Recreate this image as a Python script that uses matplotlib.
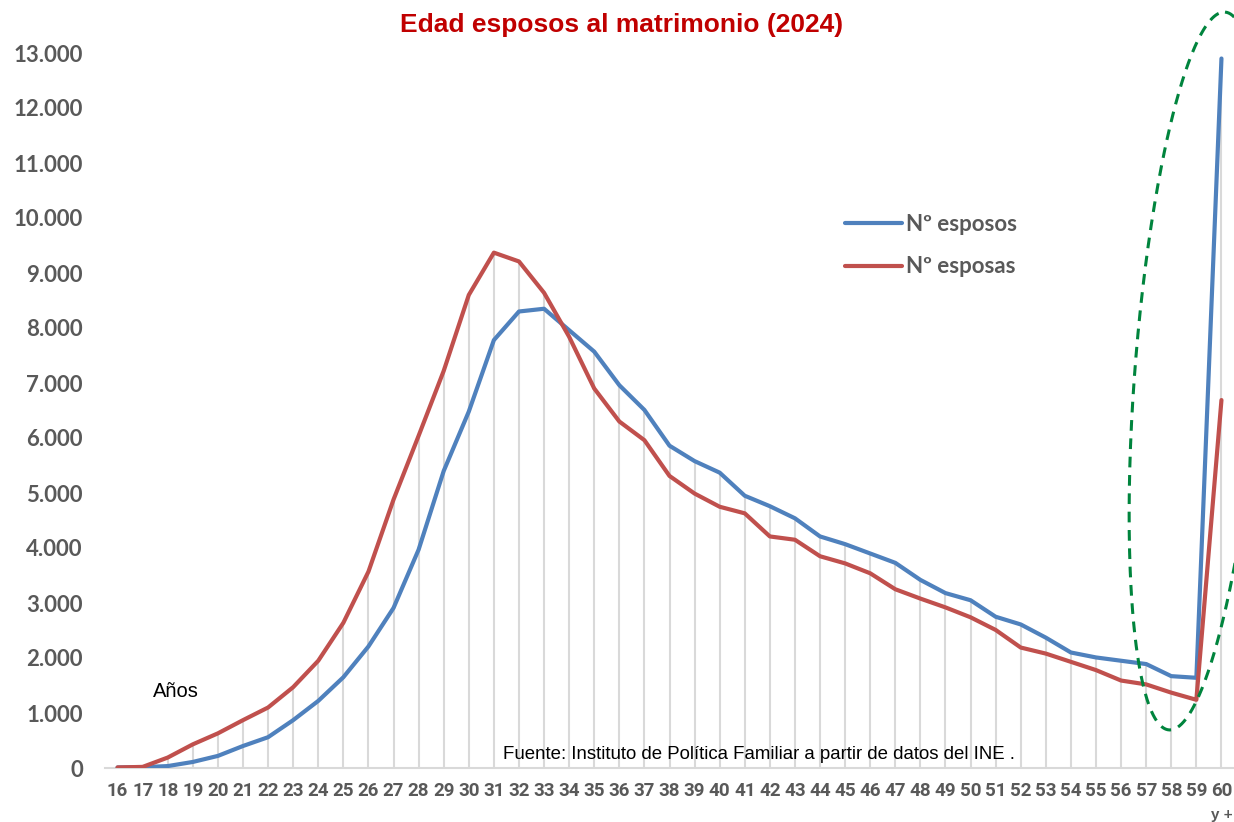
import numpy as np
import matplotlib
matplotlib.use("Agg")
import matplotlib.pyplot as plt

ages = list(range(16, 61))
age_labels = [str(a) for a in ages]

esposos = [10, 15, 35, 110, 220, 400, 560, 870, 1220, 1650, 2210, 2910, 3970, 5400,
           6480, 7780, 8300, 8350, 7960, 7570, 6960, 6510, 5860, 5580, 5370, 4950,
           4760, 4540, 4210, 4070, 3900, 3730, 3420, 3180, 3050, 2750, 2610, 2370,
           2100, 2010, 1950, 1890, 1670, 1640, 12900]
esposas = [10, 20, 190, 430, 630, 870, 1100, 1470, 1950, 2640, 3570, 4880, 6040, 7220,
           8600, 9370, 9210, 8640, 7840, 6900, 6300, 5960, 5310, 4990, 4750, 4630,
           4210, 4150, 3850, 3720, 3540, 3250, 3080, 2920, 2740, 2510, 2190, 2080,
           1930, 1780, 1590, 1520, 1370, 1240, 6690]

W, H = 1234, 822
fig = plt.figure(figsize=(W / 100, H / 100), dpi=100)
fig.patch.set_facecolor("white")

ax = fig.add_axes([105 / W, 1 - 768 / H, (1234 - 105) / W, (768 - 53) / H])
x = np.arange(len(ages))

blue = "#4F81BD"
red = "#C0504D"
gray = "#595959"

tops = np.maximum(esposos, esposas)
ax.vlines(x, 0, tops, color="#d9d9d9", lw=1.5, zorder=1)
ax.plot(x, esposos, color=blue, lw=3, solid_joinstyle="round", solid_capstyle="round",
        label="Nº esposos", zorder=3)
ax.plot(x, esposas, color=red, lw=3, solid_joinstyle="round", solid_capstyle="round",
        label="Nº esposas", zorder=3)

ax.set_xlim(-0.5, len(ages) - 0.5)
ax.set_ylim(0, 13000)
for s in ["top", "right", "left"]:
    ax.spines[s].set_visible(False)
ax.spines["bottom"].set_color("#d9d9d9")
ax.spines["bottom"].set_linewidth(1.5)

ax.set_yticks(np.arange(0, 13001, 1000))
ax.set_yticklabels([f"{v:,}".replace(",", ".") for v in range(0, 13001, 1000)],
                   fontfamily="Lato", fontweight="bold", fontsize=16, color=gray)
ax.set_xticks(x)
ax.set_xticklabels(age_labels, fontfamily="Roboto", fontstretch="condensed",
                   fontweight="bold", fontsize=13.5, color=gray)
ax.tick_params(axis="y", length=0, pad=16)
ax.tick_params(axis="x", length=0, pad=10)

ax.text(x[-1], -855, "y +", ha="center", va="center", fontsize=11, fontweight="bold",
        color=gray, fontfamily="Liberation Sans")

fig.text(622 / W, 1 - 25 / H, "Edad esposos al matrimonio (2024)", ha="center", va="center",
         fontsize=19, fontweight="bold", color="#C00000", fontfamily="Liberation Sans")

fig.text(153 / W, 1 - 691 / H, "Años", ha="left", va="center", fontsize=14.5,
         color="black", fontfamily="Liberation Sans")
fig.text(503 / W, 1 - 754 / H, "Fuente: Instituto de Política Familiar a partir de datos del INE .",
         ha="left", va="center", fontsize=13.4, color="black", fontfamily="Liberation Sans")

leg = ax.legend(loc="upper left", bbox_to_anchor=(845 / W, 1 - 214 / H),
                bbox_transform=fig.transFigure, frameon=False,
                prop={"family": "Lato", "weight": "bold", "size": 16},
                labelcolor=gray, handlelength=2.55, handletextpad=0.2,
                labelspacing=0.96, borderpad=0, borderaxespad=0)

# dashed green ellipse annotation (pixel coordinates overlay)
ov = fig.add_axes([0, 0, 1, 1], facecolor="none")
ov.set_xlim(0, W)
ov.set_ylim(H, 0)
ov.axis("off")
cx, cy, a, b = 1197, 371, 360, 62
u = np.array([0.0778, -0.997])
v = np.array([0.997, 0.0778])
t = np.linspace(0, 2 * np.pi, 400)
ex = cx + a * np.cos(t) * u[0] + b * np.sin(t) * v[0]
ey = cy + a * np.cos(t) * u[1] + b * np.sin(t) * v[1]
ov.plot(ex, ey, color="#00843D", lw=2.2, ls=(0, (3.5, 2.5)))

fig.savefig("out.png", dpi=100)
